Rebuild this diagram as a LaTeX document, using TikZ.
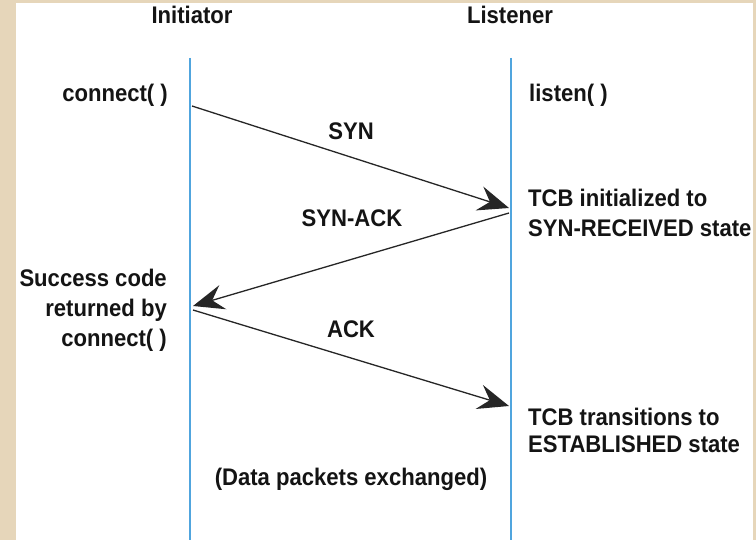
\documentclass[tikz,border=0pt]{standalone}
\usepackage{fontspec}
\setmainfont{Liberation Sans}[FakeStretch=0.92]
\usetikzlibrary{arrows.meta}
\definecolor{beige}{RGB}{230,214,186}
\definecolor{lifeblue}{RGB}{80,165,222}
\tikzset{
  lbl/.style={inner sep=0pt, font=\fontsize{24}{30}\selectfont\bfseries, text=black!92},
  life/.style={draw=lifeblue, line width=2.4pt},
  msg/.style={draw=black!85, line width=1.3pt, -{Stealth[length=31pt,width=25pt,inset=11pt]}},
}
\begin{document}
\begin{tikzpicture}[x=1pt,y=-1pt]
\useasboundingbox (0,0) rectangle (756,540);
\fill[beige] (0,0) rectangle (756,540);
\fill[white] (16,3) rectangle (753,540);
% lifelines
\coordinate (ltop) at (190,58);
\coordinate (lbot) at (190,540);
\coordinate (rtop) at (511,58);
\coordinate (rbot) at (511,540);
\draw[life] (ltop) -- (lbot);
\draw[life] (rtop) -- (rbot);
% headers
\node[lbl, anchor=base] (init) at (192,24) {Initiator};
\node[lbl, anchor=base] (list) at (510,24) {Listener};
\node[lbl, anchor=base east] (conn) at (168,102) {connect( )};
\node[lbl, anchor=base west] (lstn) at (529,102) {listen( )};
% message endpoints
\coordinate (a1) at (192,106);
\coordinate (b1) at (509,208);
\coordinate (a2) at (509,213);
\coordinate (b2) at (193,306);
\coordinate (a3) at (193,310);
\coordinate (b3) at (509,406);
\draw[msg] (a1) -- (b1);
\draw[msg] (a2) -- (b2);
\draw[msg] (a3) -- (b3);
% labels
\node[lbl, anchor=base] (syn) at (351,140) {SYN};
\node[lbl, anchor=base] (synack) at (352,227) {SYN-ACK};
\node[lbl, anchor=base] (ack) at (351,338) {ACK};
\node[lbl, anchor=base east] (s1) at (167,287) {Success code};
\node[lbl, anchor=base east] (s2) at (167,317) {returned by};
\node[lbl, anchor=base east] (s3) at (167,347) {connect( )};
\node[lbl, anchor=base west] (t1) at (528,207) {TCB initialized to};
\node[lbl, anchor=base west] (t2) at (528,237) {SYN-RECEIVED state};
\node[lbl, anchor=base west] (e1) at (528,425) {TCB transitions to};
\node[lbl, anchor=base west] (e2) at (528,453) {ESTABLISHED state};
\node[lbl, anchor=base] (data) at (351,485) {(Data packets exchanged)};
\end{tikzpicture}
\end{document}
